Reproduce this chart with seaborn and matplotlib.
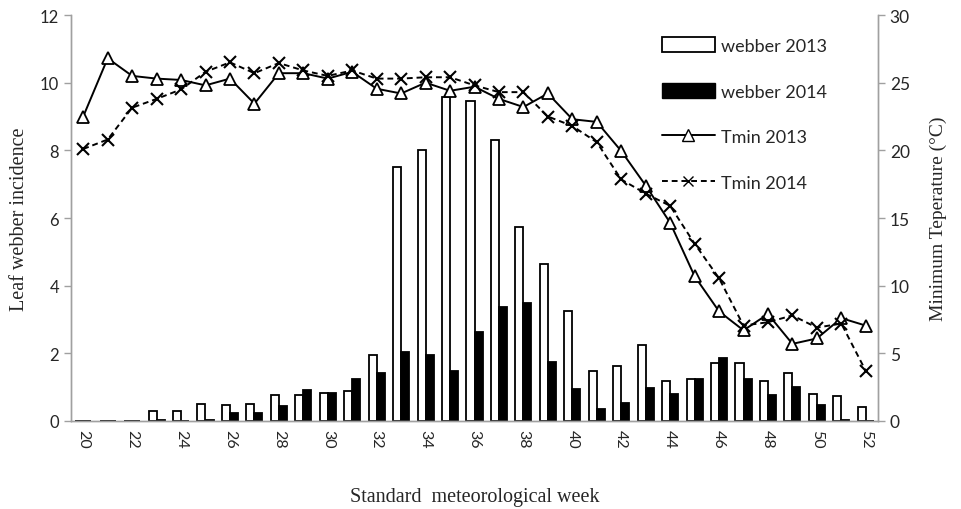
import numpy as np
import pandas as pd
import matplotlib
matplotlib.use("Agg")
import matplotlib.pyplot as plt
import seaborn as sns
from matplotlib.patches import Patch
from matplotlib.lines import Line2D
from matplotlib.ticker import FixedLocator

weeks = list(range(20, 53))
webber_2013 = [0, 0, 0, 0.3, 0.3, 0.5, 0.47, 0.5, 0.77, 0.78, 0.82, 0.9, 1.95, 7.5, 8.0,
               9.57, 9.47, 8.31, 5.72, 4.64, 3.24, 1.47, 1.64, 2.24, 1.18, 1.25, 1.70,
               1.70, 1.18, 1.43, 0.79, 0.74, 0.41]
webber_2014 = [0, 0, 0, 0.03, 0, 0.03, 0.25, 0.25, 0.43, 0.92, 0.84, 1.23, 1.43, 2.05, 1.95,
               1.48, 2.62, 3.37, 3.48, 1.73, 0.96, 0.35, 0.54, 0.99, 0.79, 1.23, 1.86,
               1.23, 0.77, 1.0, 0.47, 0.03, 0]
tmin_2013 = [22.5, 26.8, 25.5, 25.3, 25.2, 24.8, 25.3, 23.45, 25.7, 25.7, 25.3, 25.8, 24.55,
             24.2, 25.0, 24.4, 24.7, 23.8, 23.2, 24.2, 22.3, 22.1, 19.95, 17.4, 14.65, 10.7,
             8.1, 6.7, 7.9, 5.7, 6.1, 7.6, 7.05]
tmin_2014 = [20.1, 20.8, 23.15, 23.8, 24.5, 25.8, 26.5, 25.7, 26.45, 25.9, 25.5, 25.9, 25.3,
             25.3, 25.4, 25.4, 24.8, 24.3, 24.3, 22.5, 21.8, 20.6, 17.85, 16.8, 15.9, 13.1,
             10.55, 7.05, 7.3, 7.8, 6.9, 7.2, 3.7]
bar_labels = ["webber 2013", "webber 2014"]
line_labels = ["Tmin 2013", "Tmin 2014"]

df = pd.DataFrame({
    "week": [str(w) for w in weeks] * 2,
    "value": webber_2013 + webber_2014,
    "series": [bar_labels[0]] * len(weeks) + [bar_labels[1]] * len(weeks),
})

sns.set_style("white")
plt.rcParams["font.family"] = ["DejaVu Sans"]
serif = "Liberation Serif"
sans = "Lato"

fig = plt.figure(figsize=(9.62, 5.10), dpi=100)
ax = fig.add_axes([71 / 962, 88 / 510, 807 / 962, 406 / 510])

sns.barplot(data=df, x="week", y="value", hue="series",
            palette={bar_labels[0]: "white", bar_labels[1]: "black"},
            edgecolor="black", linewidth=1.3, width=0.66, gap=0.0,
            ax=ax, legend=False)

ax.set_ylim(0, 12)
ax.set_yticks(np.arange(0, 13, 2))
ax.set_xlim(-0.5, len(weeks) - 0.5)
pos = np.arange(len(weeks))
ax.set_xticks(pos[::2])
ax.set_xticklabels([str(w) for w in weeks[::2]], rotation=-90, fontsize=11.5, family=sans)
ax.xaxis.set_minor_locator(FixedLocator(np.arange(-0.5, len(weeks), 1.0)))
ax.tick_params(axis="x", which="major", length=0, pad=6)
ax.tick_params(axis="x", which="minor", length=5, color="#a0a0a0", width=1)
ax.tick_params(axis="y", length=5, color="#a0a0a0", width=1, labelsize=12)
for lbl in ax.get_yticklabels():
    lbl.set_family(sans)
ax.set_xlabel("Standard  meteorological week", family=serif, fontsize=14.5, labelpad=28)
ax.set_ylabel("Leaf webber incidence", family=serif, fontsize=14.5, labelpad=8)

ax2 = ax.twinx()
sns.lineplot(x=pos, y=tmin_2013, ax=ax2, color="black", linewidth=1.4,
             marker="^", markersize=8, markerfacecolor="white",
             markeredgecolor="black", markeredgewidth=1.3)
sns.lineplot(x=pos, y=tmin_2014, ax=ax2, color="black", linewidth=1.4,
             linestyle=(0, (3, 2)), marker="x", markersize=8,
             markeredgecolor="black", markeredgewidth=1.5)
ax2.set_ylim(0, 30)
ax2.set_yticks(np.arange(0, 31, 5))
ax2.tick_params(axis="y", length=5, color="#a0a0a0", width=1, labelsize=12.5)
for lbl in ax2.get_yticklabels():
    lbl.set_family(sans)
ax2.set_ylabel("Minimum Teperature (\u00b0C)", family=serif, fontsize=14, labelpad=14)
ax2.set_xlim(-0.5, len(weeks) - 0.5)

for a in (ax, ax2):
    a.spines["top"].set_visible(False)
    for s in ("left", "right", "bottom"):
        a.spines[s].set_color("#a0a0a0")
        a.spines[s].set_linewidth(1)
ax.tick_params(axis="y", left=True)
ax2.tick_params(axis="y", right=True)

handles = [
    Patch(facecolor="white", edgecolor="black", linewidth=1.3),
    Patch(facecolor="black", edgecolor="black"),
    Line2D([], [], color="black", linewidth=1.4, marker="^", markersize=8,
           markerfacecolor="white", markeredgecolor="black"),
    Line2D([], [], color="black", linewidth=1.4, linestyle=(0, (3, 2)), marker="x",
           markersize=7, markeredgecolor="black"),
]
leg = fig.legend(handles, bar_labels + line_labels, loc="upper left",
                 bbox_to_anchor=(646 / 962, 1 - 22 / 510), frameon=False,
                 handlelength=2.9, handleheight=0.9, labelspacing=1.6,
                 handletextpad=0.35, prop={"family": sans, "size": 13})

fig.savefig("out.png", dpi=100)
